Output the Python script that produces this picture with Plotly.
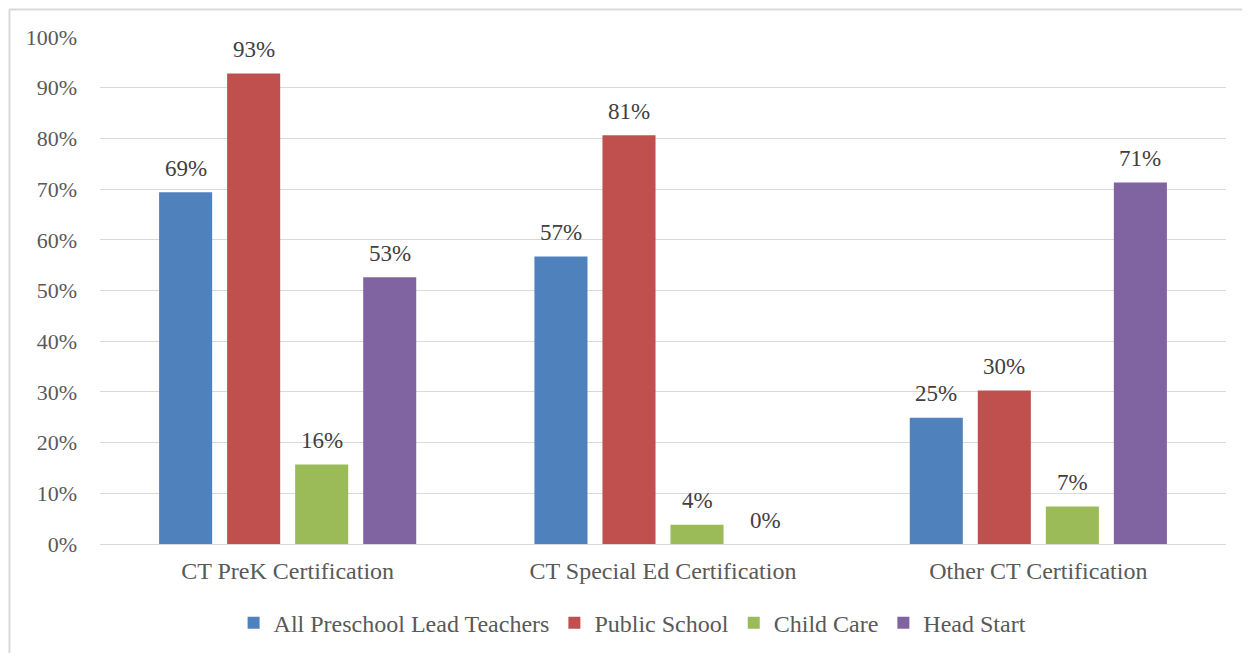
import plotly.graph_objects as go

categories = ["CT PreK Certification", "CT Special Ed Certification", "Other CT Certification"]
series_names = ["All Preschool Lead Teachers", "Public School", "Child Care", "Head Start"]
all_preschool = [69.4, 56.7, 24.9]
public_school = [92.8, 80.6, 30.3]
child_care = [15.7, 3.8, 7.4]
head_start = [52.6, 0.0, 71.3]
colors = ["#4F81BD", "#C0504D", "#9BBB59", "#8064A2"]
y_ticks = list(range(0, 101, 10))

FONT = "Liberation Serif, Times New Roman, serif"

# page body has an 8px margin; plot area in page coords: x 100..1226, y 37..544
W, H = 1250, 653
L, R, T, B = 92, 32, 29, 117
PW = 1126
PH = 507
slot = 68

all_series = [all_preschool, public_school, child_care, head_start]

fig = go.Figure()
for name, vals, col in zip(series_names, all_series, colors):
    fig.add_trace(go.Bar(
        x=categories, y=vals, name=name,
        marker=dict(color=col, line=dict(width=0)),
        hoverinfo="x+y+name",
    ))

annotations = []
for i, vals in enumerate(all_series):
    xs = (i - 1.5) * slot
    for c, v in zip(categories, vals):
        annotations.append(dict(
            x=c, y=v, xref="x", yref="y", text=f"{round(v):.0f}%",
            showarrow=False, xshift=xs, yshift=24, yanchor="middle", xanchor="center",
            font=dict(family=FONT, size=23, color="#404040"),
        ))

fig.update_layout(
    width=W, height=H,
    margin=dict(l=L, r=R, t=T, b=B),
    paper_bgcolor="white", plot_bgcolor="white",
    barmode="group", bargap=0.275, bargroupgap=0.22,
    font=dict(family=FONT, size=22, color="#595959"),
    showlegend=True,
    legend=dict(orientation="h", x=0.473, xanchor="center", y=-0.156, yanchor="middle",
                font=dict(family=FONT, size=24, color="#595959"),
                itemwidth=30, tracegroupgap=0),
    xaxis=dict(showgrid=False, showline=False, ticks="", ticklabelstandoff=10,
               tickfont=dict(family=FONT, size=24, color="#595959")),
    yaxis=dict(range=[0, 100], tickvals=y_ticks, ticktext=[f"{t}%" for t in y_ticks],
               showgrid=True, gridcolor="#D9D9D9", gridwidth=1.3,
               zeroline=True, zerolinecolor="#D9D9D9", zerolinewidth=1.3,
               showline=False, ticks="", ticklabelstandoff=22,
               tickfont=dict(family=FONT, size=22, color="#595959")),
    annotations=annotations,
    shapes=[
        dict(type="line", xref="paper", yref="paper",
             x0=(9 - 100) / PW, x1=(1262 - 100) / PW,
             y0=(544 - 9.5) / PH, y1=(544 - 9.5) / PH,
             line=dict(color="#D9D9D9", width=2), layer="below"),
        dict(type="line", xref="paper", yref="paper",
             x0=(9.5 - 100) / PW, x1=(9.5 - 100) / PW,
             y0=(544 - 9.5) / PH, y1=(544 - 670) / PH,
             line=dict(color="#D9D9D9", width=2), layer="below"),
    ],
)

fig.write_html("out.html")
